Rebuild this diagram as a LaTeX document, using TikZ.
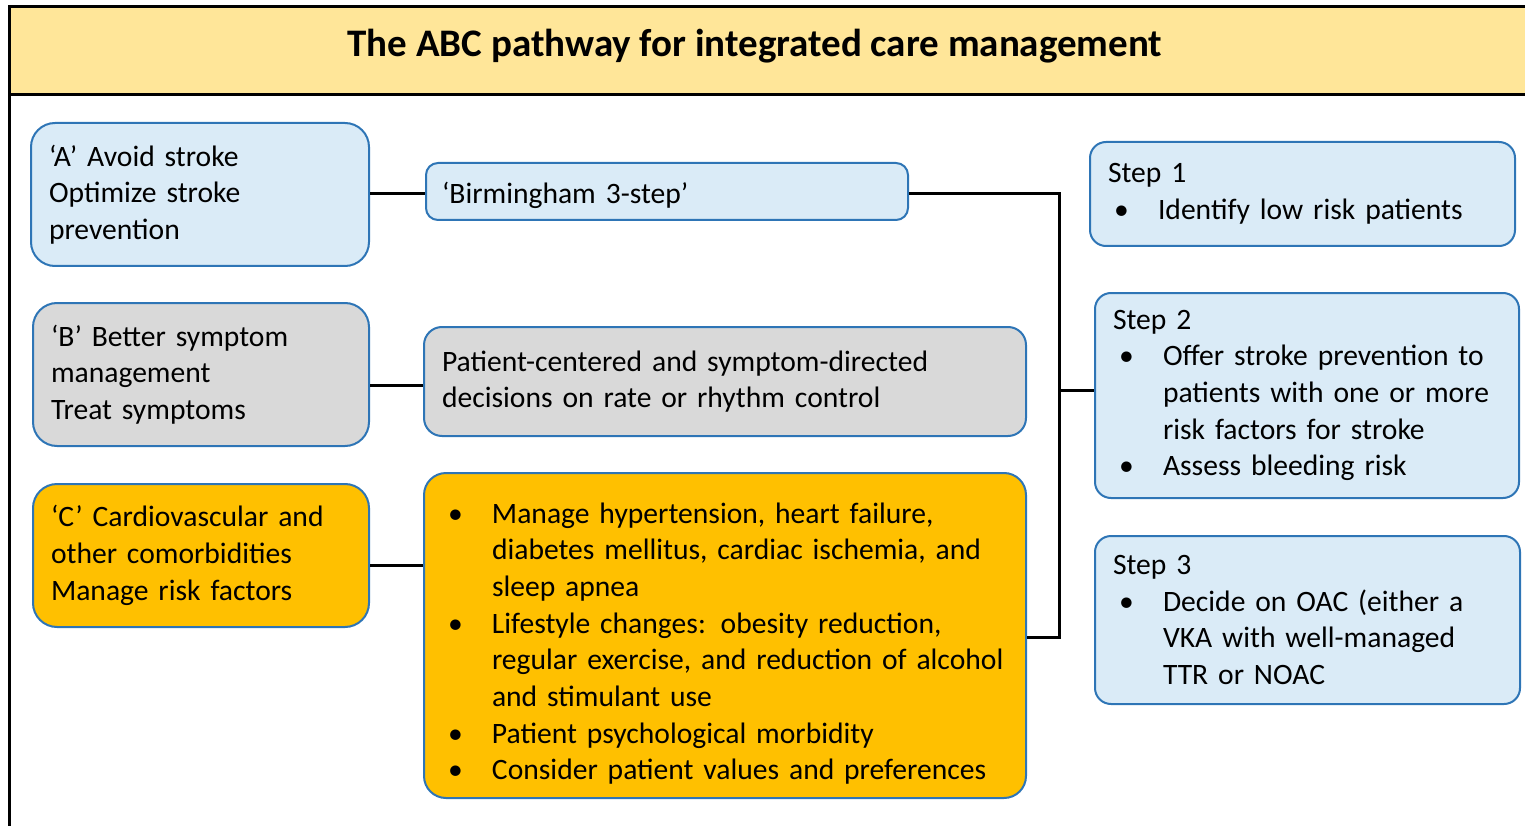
\documentclass[tikz,border=0pt]{standalone}
\usepackage{fontspec}
\setmainfont{Carlito}
\definecolor{bord}{HTML}{2E75B6}
\definecolor{lblue}{HTML}{DAEBF7}
\definecolor{lgray}{HTML}{D9D9D9}
\definecolor{orng}{HTML}{FFC000}
\definecolor{titlebg}{HTML}{FFE699}
\newcommand\bul[1]{\par\hangindent=50pt\hangafter=1\noindent\hspace*{6pt}\makebox[44pt][l]{\textbullet}#1\par}
\tikzset{
  box/.style={draw=bord, line width=2pt, anchor=north west, inner xsep=18pt, inner ysep=0pt,
    align=left, font=\fontsize{29.6}{36.7}\selectfont},
  frame/.style={line width=3pt, black},
  conn/.style={line width=3pt, black},
}
\begin{document}
\begin{tikzpicture}[x=1pt,y=-1pt]
\useasboundingbox (0,0) rectangle (1525,826);
% title band and frame
\fill[titlebg] (9,7) rectangle (1540,95);
\draw[frame] (1540,7) -- (9,7) -- (9,840);
\draw[frame] (9,95) -- (1540,95);
\node[anchor=base, font=\fontsize{39}{44}\selectfont\bfseries] (title) at (755,57) {The ABC pathway for integrated care management};
% left column
\node[box, fill=lblue, rounded corners=24pt, minimum width=338pt, minimum height=143pt, text width=302pt] (A) at (30,122)
  {‘A’ Avoid stroke\newline Optimize stroke\newline prevention};
\node[box, fill=lgray, rounded corners=24pt, minimum width=336pt, minimum height=143pt, text width=300pt] (B) at (32,302)
  {‘B’ Better symptom\newline management\newline Treat symptoms};
\node[box, fill=orng, rounded corners=24pt, minimum width=336pt, minimum height=143pt, text width=300pt] (C) at (32,483)
  {‘C’ Cardiovascular and\newline other comorbidities\newline Manage risk factors};
% middle column
\node[box, fill=lblue, rounded corners=12pt, inner xsep=16pt, minimum width=482pt, minimum height=57pt, text width=450pt,
  text height=25pt, text depth=0pt] (birm) at (425,162)
  {‘Birmingham 3-step’};
\node[box, fill=lgray, rounded corners=18pt, minimum width=602pt, minimum height=109pt, text width=566pt] (pat) at (423,326)
  {Patient-centered and symptom-directed\newline decisions on rate or rhythm control};
\node[box, fill=orng, rounded corners=22pt, minimum width=602pt, minimum height=325pt, text width=566pt] (mng) at (423,472)
  {\bul{Manage hypertension, heart failure,\newline diabetes mellitus, cardiac ischemia, and\newline sleep apnea}%
   \bul{Lifestyle changes: obesity reduction,\newline regular exercise, and reduction of alcohol\newline and stimulant use}%
   \bul{Patient psychological morbidity}%
   \bul{Consider patient values and preferences}};
% right column
\node[box, fill=lblue, rounded corners=16pt, minimum width=425pt, minimum height=104pt, text width=389pt] (s1) at (1089,141)
  {Step 1\bul{Identify low risk patients}};
\node[box, fill=lblue, rounded corners=16pt, minimum width=424pt, minimum height=205pt, text width=388pt] (s2) at (1094,292)
  {Step 2\bul{Offer stroke prevention to\newline patients with one or more\newline risk factors for stroke}\bul{Assess bleeding risk}};
\node[box, fill=lblue, rounded corners=16pt, minimum width=425pt, minimum height=168pt, text width=389pt] (s3) at (1094,535)
  {Step 3\bul{Decide on OAC (either a\newline VKA with well-managed\newline TTR or NOAC}};
% connectors
\coordinate (j1) at (1059,194);
\coordinate (j2) at (1059,390);
\coordinate (j3) at (1059,637);
\draw[conn] (A.east |- 0,194) -- (birm.west |- 0,194);
\draw[conn] (B.east |- 0,385) -- (pat.west |- 0,385);
\draw[conn] (C.east |- 0,565) -- (mng.west |- 0,565);
\draw[conn] (birm.east |- j1) -- (j1) -- (j3) -- (mng.east |- j3);
\draw[conn] (j2) -- (s2.west |- j2);
\end{tikzpicture}
\end{document}
